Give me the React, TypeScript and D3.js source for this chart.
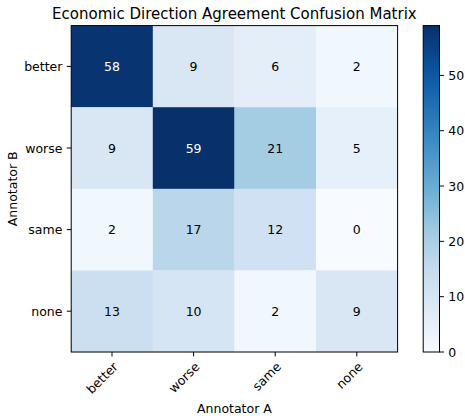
import React from "react";
import * as d3 from "d3";

const rowLabels = ["better", "worse", "same", "none"];
const colLabels = ["better", "worse", "same", "none"];
const matrixValues = [
  [58, 9, 6, 2],
  [9, 59, 21, 5],
  [2, 17, 12, 0],
  [13, 10, 2, 9],
];
const colorbarTicks = [0, 10, 20, 30, 40, 50];
const title = "Economic Direction Agreement Confusion Matrix";
const xLabel = "Annotator A";
const yLabel = "Annotator B";

const BLUES = ["#f7fbff", "#deebf7", "#c6dbef", "#9ecae1", "#6baed6", "#4292c6", "#2171b5", "#08519c", "#08306b"];

export default function App() {
  const W = 465, H = 416;
  const left = 71.2, top = 25.6, size = 326.4;
  const font = "DejaVu Sans, sans-serif";
  const fs = 12.5;
  const all = matrixValues.flat();
  const vmin = d3.min(all) as number;
  const vmax = d3.max(all) as number;
  const cmapPos = d3.scaleLinear().domain(d3.range(9).map((i) => i / 8)).range(BLUES as any).interpolate(d3.interpolateRgb as any);
  const norm = d3.scaleLinear().domain([vmin, vmax]).range([0, 1]).clamp(true);
  const color = (v: number) => cmapPos(norm(v)) as unknown as string;

  const x = d3.scaleBand<string>().domain(colLabels).range([left, left + size]);
  const y = d3.scaleBand<string>().domain(rowLabels).range([top, top + size]);
  const cbX = 423.2, cbW = 16.3;
  const cbY = d3.scaleLinear().domain([vmin, vmax]).range([top + size, top]);
  const thresh = vmax / 2;
  const stops = d3.range(0, 1.0001, 0.02);
  const tickLen = 4.4;

  return (
    <svg width={W} height={H} style={{ position: "absolute", left: 0, top: 0 }} fontFamily={font}>
      <rect width={W} height={H} fill="#fff" />
      <defs>
        <linearGradient id="cb" x1="0" y1="1" x2="0" y2="0">
          {stops.map((s) => (
            <stop key={s} offset={s} stopColor={cmapPos(s) as unknown as string} />
          ))}
        </linearGradient>
      </defs>
      <text x={left + size / 2} y={18.5} textAnchor="middle" fontSize={15} fill="#000">{title}</text>
      {matrixValues.map((row, i) =>
        row.map((v, j) => (
          <g key={`${i}-${j}`}>
            <rect x={x(colLabels[j])} y={y(rowLabels[i])} width={x.bandwidth() + 0.3} height={y.bandwidth() + 0.3} fill={color(v)} />
          </g>
        ))
      )}
      {matrixValues.map((row, i) =>
        row.map((v, j) => (
          <text key={`t${i}-${j}`} x={(x(colLabels[j]) as number) + x.bandwidth() / 2} y={(y(rowLabels[i]) as number) + y.bandwidth() / 2} dy="0.36em" textAnchor="middle" fontSize={fs} fill={v > thresh ? "#fff" : "#000"}>{v}</text>
        ))
      )}
      <rect x={left} y={top} width={size} height={size} fill="none" stroke="#000" strokeWidth={1} />
      {rowLabels.map((r) => {
        const cy = (y(r) as number) + y.bandwidth() / 2;
        return (
          <g key={r}>
            <line x1={left - tickLen} x2={left} y1={cy} y2={cy} stroke="#000" strokeWidth={1} />
            <text x={left - tickLen - 4.4} y={cy} dy="0.36em" textAnchor="end" fontSize={fs} fill="#000">{r}</text>
          </g>
        );
      })}
      {colLabels.map((c) => {
        const cx = (x(c) as number) + x.bandwidth() / 2;
        const yb = top + size;
        return (
          <g key={c}>
            <line x1={cx} x2={cx} y1={yb} y2={yb + tickLen} stroke="#000" strokeWidth={1} />
            <text transform={`translate(${cx},${yb + tickLen + 4.4}) rotate(-45)`} dy="0.76em" textAnchor="end" fontSize={fs} fill="#000">{c}</text>
          </g>
        );
      })}
      <text x={left + size / 2} y={413} textAnchor="middle" fontSize={fs} fill="#000">{xLabel}</text>
      <text transform={`translate(17,${top + size / 2}) rotate(-90)`} textAnchor="middle" fontSize={fs} fill="#000">{yLabel}</text>
      <rect x={cbX} y={top} width={cbW} height={size} fill="url(#cb)" stroke="#000" strokeWidth={1} />
      {colorbarTicks.map((t) => (
        <g key={t}>
          <line x1={cbX + cbW} x2={cbX + cbW + tickLen} y1={cbY(t)} y2={cbY(t)} stroke="#000" strokeWidth={1} />
          <text x={cbX + cbW + tickLen + 4.4} y={cbY(t)} dy="0.36em" fontSize={fs} fill="#000">{t}</text>
        </g>
      ))}
    </svg>
  );
}
